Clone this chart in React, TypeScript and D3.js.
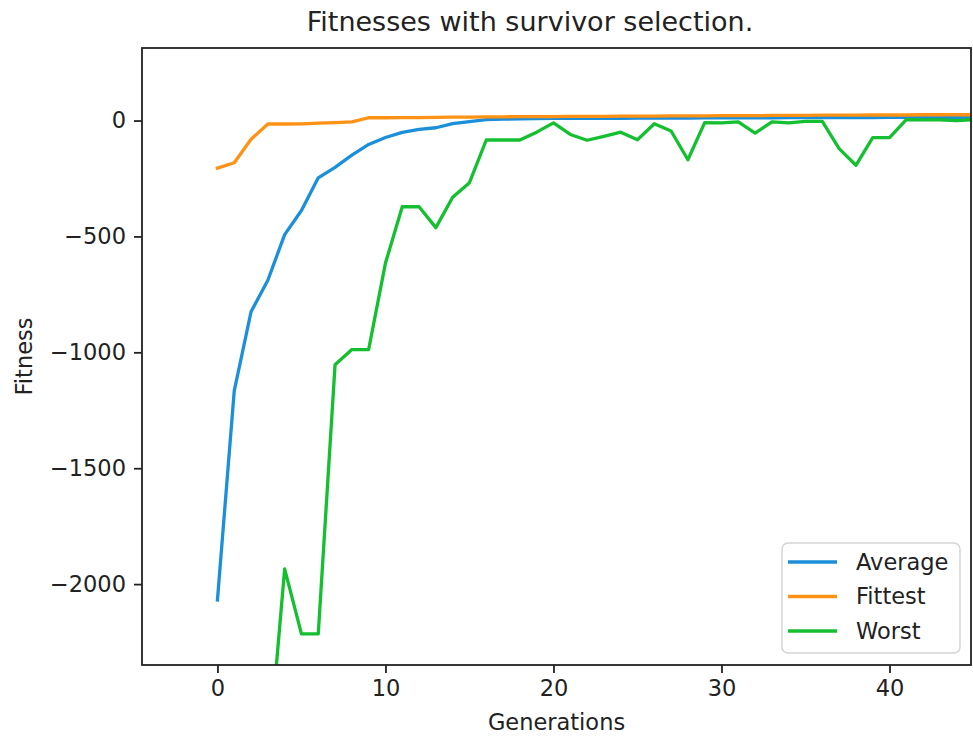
import React, { useEffect, useRef } from "react";
import { select, scaleLinear, line, axisBottom, axisLeft } from "d3";

// generations 0..45 (the view is clipped at ~44.8)
const generations = Array.from({ length: 46 }, (_, i) => i);

const average = [
  -2068, -1166, -825, -689, -492, -388, -247, -202, -149, -103, -73, -51, -38,
  -31, -13, -5, 4, 6, 7, 8, 9, 9, 10, 10, 10, 11, 11, 11, 11, 12, 12, 12, 12,
  12, 13, 13, 13, 13, 13, 13, 14, 14, 14, 14, 14, 14,
];

const fittest = [
  -205, -182, -81, -15, -15, -14, -11, -9, -6, 12, 12, 13, 13, 14, 15, 15, 16,
  16, 17, 17, 17, 18, 18, 18, 19, 19, 19, 20, 20, 20, 21, 21, 21, 22, 22, 22,
  23, 23, 23, 24, 24, 24, 25, 25, 25, 25,
];

const worst = [
  -3900, -3450, -3100, -2780, -1934, -2215, -2215, -1054, -988, -988, -615,
  -372, -372, -462, -331, -268, -84, -84, -84, -50, -10, -60, -85, -68, -50,
  -83, -14, -45, -169, -9, -10, -6, -54, -6, -10, -4, -4, -121, -193, -74, -74,
  4, 3, 3, 0, 4,
];

const xTicks = [0, 10, 20, 30, 40];
const yTicks = [0, -500, -1000, -1500, -2000];

const seriesNames = ["Average", "Fittest", "Worst"];
const seriesColors = ["#1b8fda", "#ff9214", "#14bf30"];

const W = 973;
const H = 736;
const margin = { left: 142, right: 2, top: 48, bottom: 71 };
const FONT = "'DejaVu Sans', sans-serif";

function App() {
  const xAxisRef = useRef<SVGGElement>(null);
  const yAxisRef = useRef<SVGGElement>(null);

  const innerW = W - margin.left - margin.right;
  const innerH = H - margin.top - margin.bottom;

  const xScale = scaleLinear().domain([-4.49, 44.85]).range([0, innerW]);
  const yScale = scaleLinear().domain([-2349, 313]).range([innerH, 0]);

  const lineGen = line<number>()
    .x((_, i) => xScale(generations[i]))
    .y((d) => yScale(d));

  const series = [average, fittest, worst];

  useEffect(() => {
    const xAxis = axisBottom(xScale)
      .tickValues(xTicks)
      .tickSize(8)
      .tickPadding(7)
      .tickFormat((d) => String(d));
    const yAxis = axisLeft(yScale)
      .tickValues(yTicks)
      .tickSize(8)
      .tickPadding(8)
      .tickFormat((d) => String(d).replace("-", "\u2212"));

    [select(xAxisRef.current), select(yAxisRef.current)].forEach((g, i) => {
      g.call(i === 0 ? (xAxis as any) : (yAxis as any));
      g.select(".domain").remove();
      g.selectAll("line").attr("stroke", "#222").attr("stroke-width", 1.8);
      g.selectAll("text")
        .attr("fill", "#222")
        .style("font-family", FONT)
        .style("font-size", "22.5px");
    });
  }, []);

  return (
    <>
      <style>{`body{margin:0}`}</style>
      <svg width={W} height={H} style={{ display: "block", background: "#fff" }}>
        <defs>
          <clipPath id="plot-clip">
            <rect x={0} y={0} width={innerW} height={innerH} />
          </clipPath>
        </defs>
        <text
          x={530}
          y={31}
          textAnchor="middle"
          fontFamily={FONT}
          fontSize={27}
          fill="#222"
        >
          Fitnesses with survivor selection.
        </text>
        <g transform={`translate(${margin.left},${margin.top})`}>
          <g clipPath="url(#plot-clip)">
            {series.map((s, i) => (
              <path
                key={seriesNames[i]}
                d={lineGen(s) || ""}
                fill="none"
                stroke={seriesColors[i]}
                strokeWidth={3.3}
                strokeLinejoin="round"
                strokeLinecap="square"
              />
            ))}
          </g>
          <rect
            x={0}
            y={0}
            width={innerW}
            height={innerH}
            fill="none"
            stroke="#222"
            strokeWidth={1.8}
          />
          <g ref={xAxisRef} transform={`translate(0,${innerH})`} />
          <g ref={yAxisRef} />

          {/* legend, lower right */}
          <g transform={`translate(${innerW - 189},${innerH - 122})`}>
            <rect
              x={0}
              y={0}
              width={178}
              height={110}
              rx={6}
              fill="#fff"
              fillOpacity={0.8}
              stroke="#d5d5d5"
              strokeWidth={1.5}
            />
            {seriesNames.map((name, i) => (
              <g key={name} transform={`translate(0,${19 + i * 34.5})`}>
                <line
                  x1={6}
                  x2={55}
                  y1={0}
                  y2={0}
                  stroke={seriesColors[i]}
                  strokeWidth={3.3}
                />
                <text
                  x={74}
                  y={0}
                  dy="0.35em"
                  fontFamily={FONT}
                  fontSize={22.5}
                  fill="#222"
                >
                  {name}
                </text>
              </g>
            ))}
          </g>
        </g>
        <text
          x={margin.left + innerW / 2}
          y={730}
          textAnchor="middle"
          fontFamily={FONT}
          fontSize={22.5}
          fill="#222"
        >
          Generations
        </text>
        <text
          transform={`translate(32,${margin.top + innerH / 2}) rotate(-90)`}
          textAnchor="middle"
          fontFamily={FONT}
          fontSize={22.5}
          fill="#222"
        >
          Fitness
        </text>
      </svg>
    </>
  );
}

export default App;
